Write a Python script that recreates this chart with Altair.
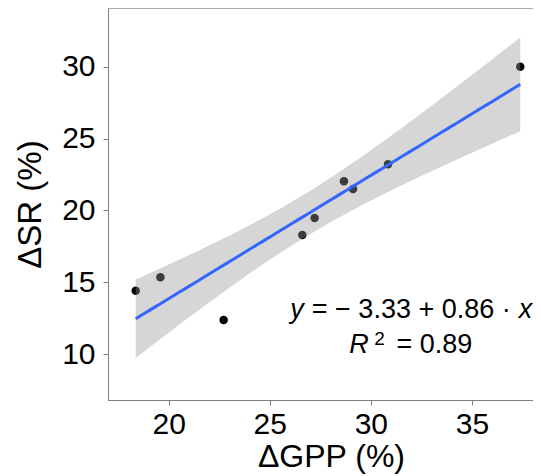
import numpy as np
import pandas as pd
import altair as alt

# Data
gpp = [18.37, 19.59, 22.72, 26.61, 27.22, 28.67, 29.12, 30.85, 37.39]
sr = [14.42, 15.35, 12.39, 18.30, 19.48, 22.03, 21.50, 23.21, 30.00]
x_ticks = [20, 25, 30, 35]
y_ticks = [10, 15, 20, 25, 30]
eq_mid = "= \u2212 3.33 + 0.86 \u00b7"
r2_text = "= 0.89"

FONT = "Liberation Sans"
GRAY = "#7f7f7f"
W, H = 425, 392

df = pd.DataFrame({"gpp": gpp, "sr": sr})

# linear fit with 95% confidence band (as geom_smooth(method="lm"))
xa = np.array(gpp)
ya = np.array(sr)
n = len(xa)
b1, b0 = np.polyfit(xa, ya, 1)
resid = ya - (b0 + b1 * xa)
s = np.sqrt(np.sum(resid ** 2) / (n - 2))
sxx = np.sum((xa - xa.mean()) ** 2)
t975 = 2.364624  # t quantile, df = 7
grid = np.linspace(xa.min(), xa.max(), 80)
fitv = b0 + b1 * grid
se = s * np.sqrt(1.0 / n + (grid - xa.mean()) ** 2 / sxx)
fit = pd.DataFrame({"x": grid, "fit": fitv, "lo": fitv - t975 * se, "hi": fitv + t975 * se})

xscale = alt.Scale(domain=[17.0, 38.02], nice=False, zero=False)
yscale = alt.Scale(domain=[6.82, 34.08], nice=False, zero=False)

xaxis = alt.Axis(values=x_ticks, title="ΔGPP (%)", grid=False,
                 labelFont=FONT, labelFontSize=30, labelColor="black", labelPadding=4,
                 titleFont=FONT, titleFontSize=32, titleColor="black", titleFontWeight="normal",
                 titleX=223, titleY=66, titleBaseline="alphabetic", titleAlign="center",
                 tickSize=5, tickColor=GRAY, tickWidth=1, domainColor=GRAY, domainWidth=1,
                 labelFlush=False)
yaxis = alt.Axis(values=y_ticks, title="ΔSR (%)", grid=False,
                 labelFont=FONT, labelFontSize=30, labelColor="black", labelPadding=8,
                 titleFont=FONT, titleFontSize=33, titleColor="black", titleFontWeight="normal",
                 titleAngle=270, titleX=-68, titleY=196, titleBaseline="alphabetic", titleAlign="center",
                 tickSize=5, tickColor=GRAY, tickWidth=1, domainColor=GRAY, domainWidth=1,
                 labelFlush=False)


def X(field):
    return alt.X(field, scale=xscale, axis=xaxis)


def Y(field):
    return alt.Y(field, scale=yscale, axis=yaxis)


pts = alt.Chart(df).mark_circle(size=72, color="black", opacity=1).encode(
    x=X("gpp:Q"), y=Y("sr:Q"),
)

band = alt.Chart(fit).mark_area(color="#999999", opacity=0.4, clip=True).encode(
    x=X("x:Q"), y=Y("lo:Q"), y2="hi:Q",
)

line = alt.Chart(fit).mark_line(color="#3366FF", strokeWidth=3, clip=True).encode(
    x=X("x:Q"), y=Y("fit:Q"),
)

one = pd.DataFrame({"a": [0]})
top = alt.Chart(one).mark_rule(color=GRAY, strokeWidth=1).encode(
    x=alt.value(0), x2=alt.value(W), y=alt.value(0)
)

# annotation anchor in data coordinates
ann = pd.DataFrame({"ax": [32.0], "ay1": [12.5], "ay2": [10.07]})


def txt(text, yfield, dx, align, size=27, style="normal", dy=0):
    return alt.Chart(ann).mark_text(
        text=text, font=FONT, fontSize=size, fontStyle=style, color="black",
        align=align, baseline="alphabetic", dx=dx, dy=dy,
    ).encode(x=X("ax:Q"), y=Y(f"{yfield}:Q"))


annots = [
    txt("y", "ay1", -121, "left", style="italic"),
    txt(eq_mid, "ay1", 0, "center"),
    txt("x", "ay1", 121, "right", style="italic"),
    txt("R", "ay2", -62, "left", style="italic"),
    txt("2", "ay2", -37, "left", size=19, dy=-8),
    txt(r2_text, "ay2", 61, "right"),
]

chart = alt.layer(pts, band, line, top, *annots).properties(
    width=W, height=H,
    autosize=alt.AutoSizeParams(type="none"),
    padding={"left": 100, "top": 0, "right": 0, "bottom": 76},
).configure_view(strokeWidth=0).configure(font=FONT)

chart.save("out.html", embed_options={"renderer": "svg", "actions": False})
